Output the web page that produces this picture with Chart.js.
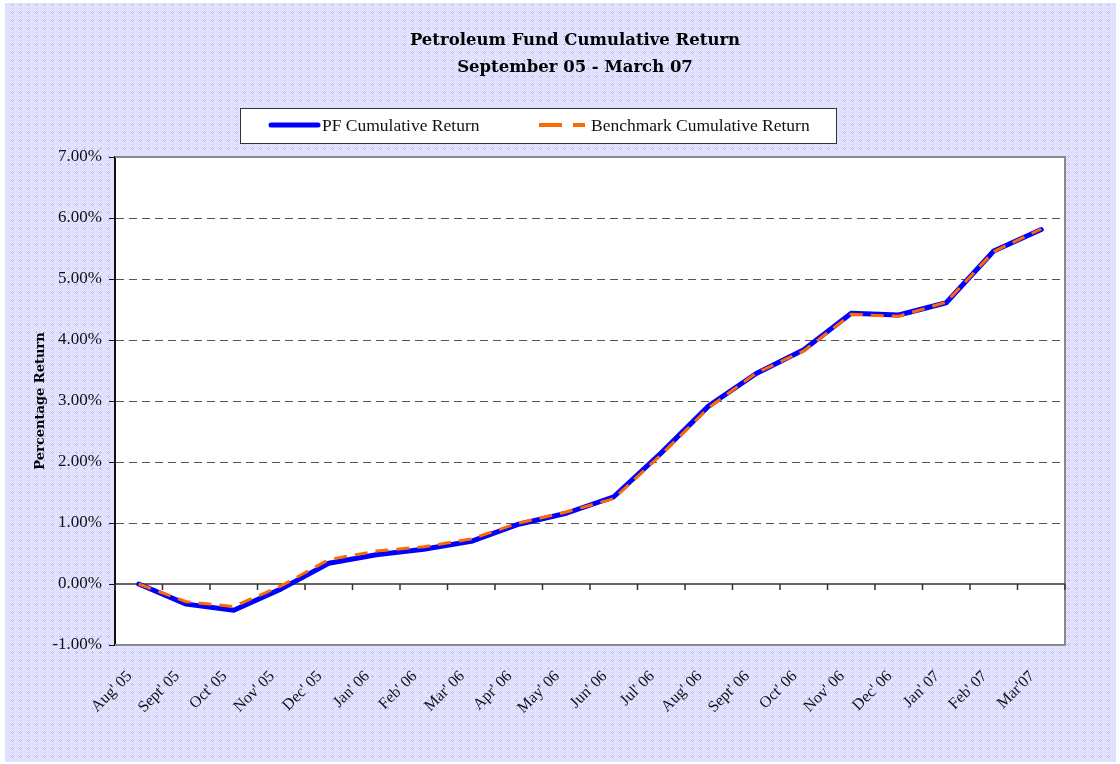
<!DOCTYPE html>
<html>
<head>
<meta charset="utf-8">
<script src="https://cdn.jsdelivr.net/npm/chart.js@4.4.1/dist/chart.umd.min.js"></script>
<style>
  html, body { margin: 0; padding: 0; background: #fff; }
  #wrap { width: 1120px; height: 764px; position: relative; }
</style>
</head>
<body>
<div id="wrap"><canvas id="grafico" width="1120" height="764"></canvas></div>
<script>
// dados (retorno acumulado, %)
const meses = ["Aug' 05", "Sept' 05", "Oct' 05", "Nov' 05", "Dec' 05", "Jan' 06", "Feb' 06", "Mar' 06",
  "Apr' 06", "May' 06", "Jun' 06", "Jul' 06", "Aug' 06", "Sept' 06", "Oct' 06", "Nov' 06",
  "Dec' 06", "Jan' 07", "Feb' 07", "Mar'07"];
const retornoPF = [0, -0.33, -0.43, -0.08, 0.34, 0.48, 0.57, 0.70, 0.98, 1.16, 1.43, 2.15, 2.92, 3.45,
  3.84, 4.44, 4.41, 4.61, 5.46, 5.81];
const retornoBenchmark = [0, -0.29, -0.37, -0.03, 0.40, 0.54, 0.61, 0.74, 1.00, 1.18, 1.40, 2.12, 2.89, 3.46,
  3.82, 4.42, 4.39, 4.62, 5.45, 5.82];
const titulos = ['Petroleum Fund Cumulative Return', 'September 05 - March 07'];
const nomesSeries = ['PF Cumulative Return', 'Benchmark Cumulative Return'];

const SERIF = '"Liberation Serif", "Times New Roman", serif';

// padrão de fundo lilás com cruzinhas
function criaPadrao(ctx) {
  const t = document.createElement('canvas');
  t.width = 8; t.height = 8;
  const c = t.getContext('2d');
  c.fillStyle = '#d8d8fc';
  c.fillRect(0, 0, 8, 8);
  c.fillStyle = '#e9e9ff';
  for (let x = 0; x < 8; x++) for (let y = 0; y < 8; y++) if ((x + y) % 2 === 0) c.fillRect(x, y, 1, 1);
  c.fillStyle = '#c0c0f6';
  c.fillRect(4, 3, 1, 3);
  c.fillRect(3, 4, 3, 1);
  return ctx.createPattern(t, 'repeat');
}

const fundo = {
  id: 'fundo',
  beforeDraw(chart) {
    const { ctx, chartArea: a } = chart;
    ctx.save();
    ctx.fillStyle = '#fff';
    ctx.fillRect(0, 0, chart.width, chart.height);
    ctx.fillStyle = criaPadrao(ctx);
    ctx.fillRect(5, 3, 1111, 759);
    ctx.fillStyle = '#fff';
    ctx.fillRect(a.left, a.top, a.right - a.left, a.bottom - a.top);
    ctx.restore();
  },
  beforeDatasetsDraw(chart) {
    const { ctx, chartArea: a, scales } = chart;
    ctx.save();
    // moldura
    ctx.strokeStyle = '#8a8a8a';
    ctx.lineWidth = 2;
    ctx.beginPath();
    ctx.moveTo(a.left, a.top); ctx.lineTo(a.right, a.top); ctx.lineTo(a.right, a.bottom); ctx.lineTo(a.left, a.bottom);
    ctx.stroke();
    // linha do zero e marcas do eixo x
    const y0 = scales.y.getPixelForValue(0);
    ctx.strokeStyle = '#333';
    ctx.lineWidth = 1.5;
    ctx.beginPath();
    ctx.moveTo(a.left, y0); ctx.lineTo(a.right, y0);
    const passo = scales.x.getPixelForValue(1) - scales.x.getPixelForValue(0);
    for (let i = 0; i <= meses.length; i++) {
      const x = scales.x.getPixelForValue(i) - passo / 2;
      ctx.moveTo(x, y0); ctx.lineTo(x, y0 + 6);
    }
    ctx.stroke();
    ctx.restore();
  },
  afterDraw(chart) {
    const { ctx } = chart;
    ctx.save();
    // título
    ctx.fillStyle = '#000';
    ctx.textAlign = 'center';
    ctx.textBaseline = 'middle';
    ctx.font = 'bold 16.5px "DejaVu Serif", serif';
    ctx.fillText(titulos[0], 575, 41);
    ctx.fillText(titulos[1], 575, 68);
    // legenda
    ctx.fillStyle = '#fff';
    ctx.fillRect(240, 108, 596, 35);
    ctx.strokeStyle = '#333';
    ctx.lineWidth = 1;
    ctx.strokeRect(240.5, 108.5, 596, 35);
    const ds = chart.data.datasets;
    ctx.lineCap = 'round';
    ctx.strokeStyle = ds[0].borderColor;
    ctx.lineWidth = 5;
    ctx.beginPath(); ctx.moveTo(271, 125); ctx.lineTo(318, 125); ctx.stroke();
    ctx.lineCap = 'butt';
    ctx.strokeStyle = ds[1].borderColor;
    ctx.lineWidth = 4;
    ctx.setLineDash([23, 11]);
    ctx.beginPath(); ctx.moveTo(539, 125); ctx.lineTo(585, 125); ctx.stroke();
    ctx.setLineDash([]);
    ctx.fillStyle = '#111';
    ctx.textAlign = 'left';
    ctx.font = '17.5px ' + SERIF;
    ctx.fillText(nomesSeries[0], 322, 126);
    ctx.fillText(nomesSeries[1], 591, 126);
    ctx.restore();
  }
};

const ctx = document.getElementById('grafico').getContext('2d');
new Chart(ctx, {
  type: 'line',
  data: {
    labels: meses,
    datasets: [
      { label: nomesSeries[0], data: retornoPF, borderColor: '#0000ff', borderWidth: 5, order: 1,
        pointRadius: 0, tension: 0, borderJoinStyle: 'round', borderCapStyle: 'round' },
      { label: nomesSeries[1], data: retornoBenchmark, borderColor: '#ff6a00', borderWidth: 3, order: 0,
        borderDash: [13, 8], pointRadius: 0, tension: 0 }
    ]
  },
  options: {
    responsive: false,
    animation: false,
    layout: { padding: { top: 157, right: 55, left: 0, bottom: 0 } },
    plugins: { legend: { display: false }, title: { display: false }, tooltip: { enabled: false } },
    scales: {
      x: {
        offset: true,
        grid: { display: false },
        border: { display: false },
        ticks: { minRotation: 45, maxRotation: 45, padding: 14, labelOffset: -9, color: '#111',
          font: { family: SERIF, size: 16 } },
        afterFit: s => { s.height = 119; }
      },
      y: {
        min: -1, max: 7,
        grid: {
          color: c => (c.tick.value === 0 || c.tick.value === 7 || c.tick.value === -1) ? 'rgba(0,0,0,0)' : '#555',
          lineWidth: 1,
          tickColor: '#111', tickLength: 6, tickBorderDash: []
        },
        border: { display: true, color: '#111', width: 2, dash: [8, 5] },
        ticks: { stepSize: 1, padding: 7, color: '#111', font: { family: SERIF, size: 17 },
          callback: v => v.toFixed(2) + '%' },
        title: { display: true, text: 'Percentage Return', color: '#000',
          font: { family: '"DejaVu Serif", serif', size: 13, weight: 'bold' }, padding: { top: 33, bottom: 0 } },
        afterFit: s => { s.width = 115; }
      }
    }
  },
  plugins: [fundo]
});
</script>
</body>
</html>
